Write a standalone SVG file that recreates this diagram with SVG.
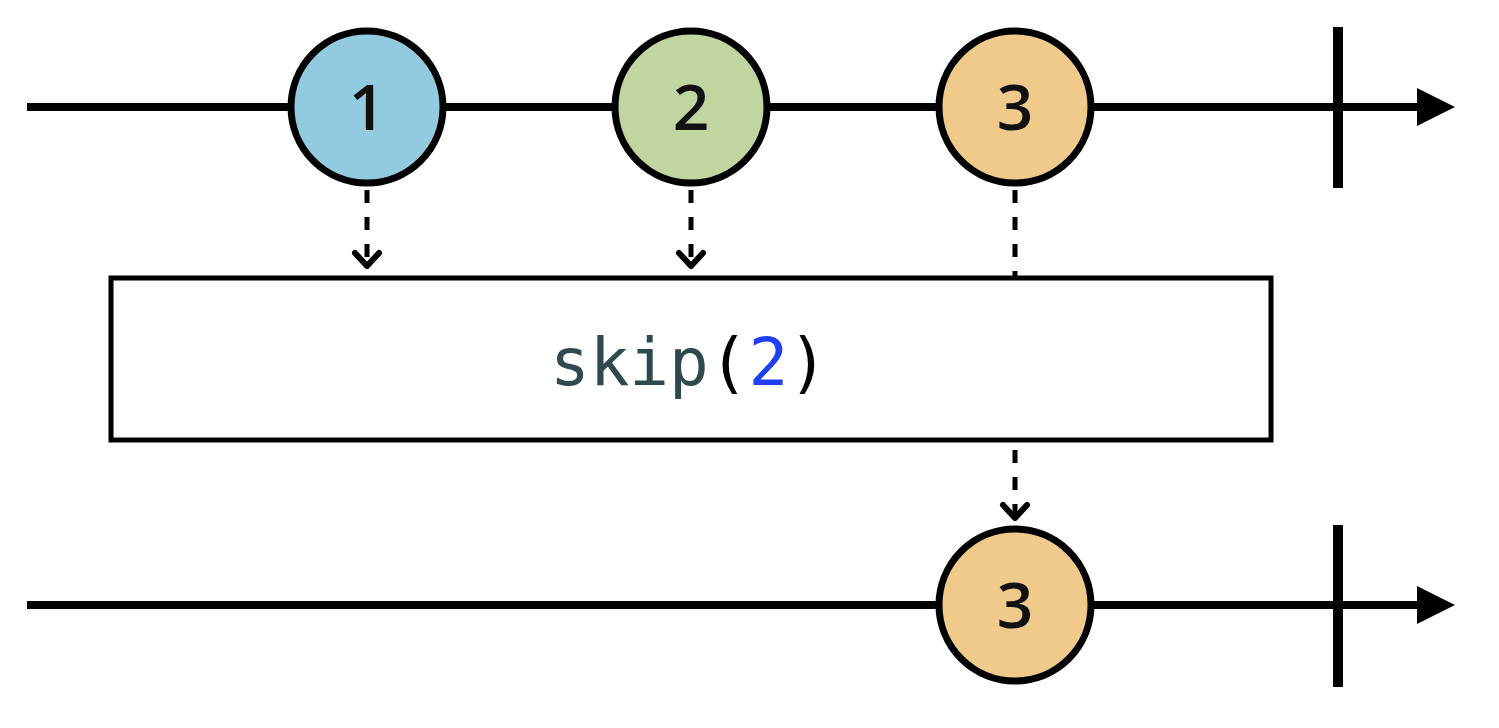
<svg xmlns="http://www.w3.org/2000/svg" width="1499" height="728" viewBox="0 0 1499 728">
<style>
.line{stroke:#000;stroke-width:8;fill:none}
.tick{stroke:#000;stroke-width:10}
.marble{stroke:#000;stroke-width:7}
.num{font-family:"Open Sans","Liberation Sans",sans-serif;font-size:64px;font-weight:600;fill:#111;text-anchor:middle}
.dash{stroke:#000;stroke-width:5;stroke-dasharray:13 14;fill:none}
.head{stroke:#000;stroke-width:6;fill:none;stroke-linecap:round;stroke-linejoin:round}
.op{font-family:"DejaVu Sans Mono","Liberation Mono",monospace;font-size:66px;text-anchor:middle}
</style>
<g id="timeline-top">
<line class="line" x1="27" y1="107" x2="1418" y2="107"/>
<path d="M1417,88 L1455,107 L1417,126 Z" fill="#000"/>
<line class="tick" x1="1338" y1="27" x2="1338" y2="188"/>
</g>
<g id="timeline-bottom">
<line class="line" x1="27" y1="605" x2="1418" y2="605"/>
<path d="M1417,586 L1455,605 L1417,624 Z" fill="#000"/>
<line class="tick" x1="1338" y1="525" x2="1338" y2="687"/>
</g>
<g id="connectors">
<line class="dash" x1="367" y1="190" x2="367" y2="266"/>
<path class="head" d="M355,253 L367,266 L379,253"/>
<line class="dash" x1="691" y1="190" x2="691" y2="266"/>
<path class="head" d="M679,253 L691,266 L703,253"/>
<line class="dash" x1="1015" y1="190" x2="1015" y2="276"/>
<line class="dash" x1="1015" y1="450" x2="1015" y2="518"/>
<path class="head" d="M1003,505 L1015,518 L1027,505"/>
</g>
<g id="marble-1">
<circle class="marble" cx="367" cy="107" r="76" fill="#92cbdf"/>
<text class="num" x="367" y="130">1</text>
</g>
<g id="marble-2">
<circle class="marble" cx="691" cy="107" r="76" fill="#c1d5a1"/>
<text class="num" x="691" y="130">2</text>
</g>
<g id="marble-3">
<circle class="marble" cx="1015" cy="107" r="76" fill="#f0ca8b"/>
<text class="num" x="1015" y="130">3</text>
</g>
<g id="operator">
<rect x="111" y="278" width="1160" height="162" fill="#fff" stroke="#000" stroke-width="5"/>
<text class="op" x="689" y="385"><tspan fill="#2f4a4f">skip</tspan><tspan fill="#000">(</tspan><tspan fill="#1f3ff5">2</tspan><tspan fill="#000">)</tspan></text>
</g>
<g id="marble-3-out">
<circle class="marble" cx="1015" cy="605" r="76" fill="#f0ca8b"/>
<text class="num" x="1015" y="628">3</text>
</g>
</svg>
